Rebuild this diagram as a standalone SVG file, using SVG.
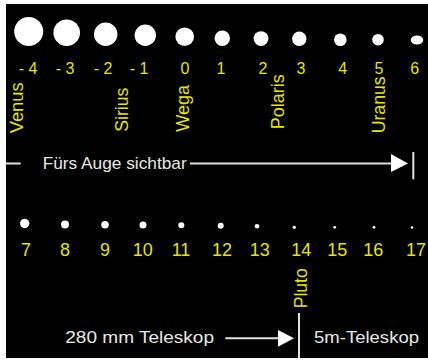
<svg xmlns="http://www.w3.org/2000/svg" width="428" height="362" viewBox="0 0 428 362">
<defs>
<style>
.star{fill:#fff}
.num{fill:#e6e600;font-family:"Liberation Sans",Arial,sans-serif;font-size:16px;text-anchor:middle}
.num2{fill:#e6e600;font-family:"Liberation Sans",Arial,sans-serif;font-size:18px;text-anchor:middle}
.name{fill:#e6e600;font-family:"Liberation Sans",Arial,sans-serif;font-size:18px}
.lbl{fill:#e8e8e8;font-family:"Liberation Sans",Arial,sans-serif;font-size:17px}
.ln{stroke:#e0e0e0;stroke-width:2;fill:none}
.head{fill:#fff}
</style>
</defs>
<rect x="0" y="0" width="428" height="362" fill="#fff"/>
<rect x="6" y="4" width="422" height="354" fill="#000"/>

<g id="mag-4"><circle class="star" cx="28.7" cy="31.5" r="14.5"/><text class="num" x="28" y="74">- 4</text></g>
<g id="mag-3"><circle class="star" cx="66.7" cy="32.7" r="13.3"/><text class="num" x="65" y="74">- 3</text></g>
<g id="mag-2"><circle class="star" cx="105.7" cy="34.3" r="11.7"/><text class="num" x="103" y="74">- 2</text></g>
<g id="mag-1"><circle class="star" cx="145.3" cy="35.3" r="10.7"/><text class="num" x="139" y="74">- 1</text></g>
<g id="mag0"><circle class="star" cx="184.7" cy="36.7" r="9.3"/><text class="num" x="185" y="74">0</text></g>
<g id="mag1"><circle class="star" cx="222.3" cy="38.3" r="7.7"/><text class="num" x="221" y="74">1</text></g>
<g id="mag2"><circle class="star" cx="261" cy="38.6" r="7.4"/><text class="num" x="263" y="74">2</text></g>
<g id="mag3"><circle class="star" cx="299.3" cy="38.8" r="7.2"/><text class="num" x="301" y="74">3</text></g>
<g id="mag4"><circle class="star" cx="340.3" cy="39.7" r="6.3"/><text class="num" x="342.7" y="74">4</text></g>
<g id="mag5"><circle class="star" cx="378" cy="39.7" r="5.8"/><text class="num" x="379" y="74">5</text></g>
<g id="mag6"><ellipse class="star" cx="417" cy="40" rx="6.3" ry="4.5"/><text class="num" x="414.7" y="74">6</text></g>

<g id="venus"><text class="name" transform="translate(23,133.3) rotate(-90)" textLength="51" lengthAdjust="spacingAndGlyphs">Venus</text></g>
<g id="sirius"><text class="name" transform="translate(128,131.7) rotate(-90)" textLength="44" lengthAdjust="spacingAndGlyphs">Sirius</text></g>
<g id="wega"><text class="name" transform="translate(189,131.7) rotate(-90)" textLength="46.7" lengthAdjust="spacingAndGlyphs">Wega</text></g>
<g id="polaris"><text class="name" transform="translate(284,129.3) rotate(-90)" textLength="55" lengthAdjust="spacingAndGlyphs">Polaris</text></g>
<g id="uranus"><text class="name" transform="translate(384.5,133.3) rotate(-90)" textLength="57" lengthAdjust="spacingAndGlyphs">Uranus</text></g>

<g id="auge"><text class="lbl" x="42.7" y="168.5" textLength="144" lengthAdjust="spacingAndGlyphs">Fürs Auge sichtbar</text></g>

<g id="mag7"><circle class="star" cx="24.7" cy="223.5" r="4.7"/><text class="num2" x="26" y="256">7</text></g>
<g id="mag8"><circle class="star" cx="65" cy="224.5" r="4"/><text class="num2" x="65" y="256">8</text></g>
<g id="mag9"><circle class="star" cx="105" cy="224.7" r="3.8"/><text class="num2" x="105" y="256">9</text></g>
<g id="mag10"><circle class="star" cx="143" cy="225" r="3.5"/><text class="num2" x="142.7" y="256">10</text></g>
<g id="mag11"><circle class="star" cx="181.3" cy="225.3" r="3"/><text class="num2" x="181" y="256">11</text></g>
<g id="mag12"><circle class="star" cx="220.7" cy="225.7" r="3"/><text class="num2" x="222" y="256">12</text></g>
<g id="mag13"><circle class="star" cx="257" cy="226.3" r="2.3"/><text class="num2" x="259.7" y="256">13</text></g>
<g id="mag14"><circle class="star" cx="294.3" cy="227.3" r="1.6"/><text class="num2" x="301.3" y="256">14</text></g>
<g id="mag15"><circle class="star" cx="334.7" cy="227.3" r="1.4"/><text class="num2" x="337.3" y="256">15</text></g>
<g id="mag16"><circle class="star" cx="374" cy="227.3" r="1.4"/><text class="num2" x="373.3" y="256">16</text></g>
<g id="mag17"><circle class="star" cx="412" cy="227.5" r="1.2"/><text class="num2" x="416" y="256">17</text></g>

<g id="pluto"><text class="name" transform="translate(307,308.3) rotate(-90)" textLength="40" lengthAdjust="spacingAndGlyphs">Pluto</text></g>

<g id="tele280"><text class="lbl" x="65.3" y="342.7" textLength="148.7" lengthAdjust="spacingAndGlyphs">280 mm Teleskop</text></g>
<g id="tele5m"><text class="lbl" x="314" y="343" textLength="105" lengthAdjust="spacingAndGlyphs">5m-Teleskop</text></g>

<g id="connectors">
<line class="ln" x1="6" y1="163.5" x2="20.7" y2="163.5"/>
<line class="ln" x1="190" y1="163.5" x2="393" y2="163.5"/>
<polygon class="head" points="391,154 408,163.5 391,172"/>
<line class="ln" x1="413.3" y1="152" x2="413.3" y2="179.3"/>
<line class="ln" x1="225.3" y1="338.3" x2="280" y2="338.3"/>
<polygon class="head" points="278,330 294,338.3 278,346.7"/>
<line class="ln" x1="299" y1="313" x2="299" y2="358"/>
</g>
</svg>
